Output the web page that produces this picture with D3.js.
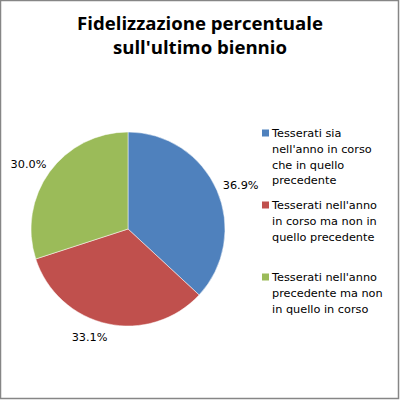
<!DOCTYPE html>
<html lang="it">
<head>
<meta charset="utf-8">
<script src="https://cdn.jsdelivr.net/npm/d3@7"></script>
<style>
  body { margin: 0; background: #fff; }
  .title { font-family: "Open Sans", "DejaVu Sans", sans-serif; font-weight: bold; font-size: 18.6px; fill: #000; }
  .lbl, .leg { font-family: "DejaVu Sans", sans-serif; font-size: 11.3px; fill: #000; }
</style>
</head>
<body>
<svg id="chart" width="400" height="400"></svg>
<script>
  var titleLines = ["Fidelizzazione percentuale", "sull'ultimo biennio"];
  var categories = [
    "Tesserati sia nell'anno in corso che in quello precedente",
    "Tesserati nell'anno in corso ma non in quello precedente",
    "Tesserati nell'anno precedente ma non in quello in corso"
  ];
  var legendLines = [
    ["Tesserati sia", "nell'anno in corso", "che in quello", "precedente"],
    ["Tesserati nell'anno", "in corso ma non in", "quello precedente"],
    ["Tesserati nell'anno", "precedente ma non", "in quello in corso"]
  ];
  var values = [36.9, 33.1, 30.0];
  var colors = ["#4F81BD", "#C0504D", "#9BBB59"];

  var svg = d3.select("#chart");
  var cx = 128, cy = 229, r = 97;

  svg.append("rect")
    .attr("x", 0.5).attr("y", 0.5)
    .attr("width", 398).attr("height", 398)
    .attr("fill", "#fff")
    .attr("stroke", "#868686")
    .attr("stroke-width", 1.5);

  svg.append("text")
    .attr("class", "title")
    .attr("text-anchor", "middle")
    .selectAll("tspan")
    .data(titleLines)
    .enter()
    .append("tspan")
    .attr("x", 200)
    .attr("y", function(d, i) { return 30 + i * 24; })
    .text(function(d) { return d; });

  var color = d3.scaleOrdinal().domain(categories).range(colors);
  var pie = d3.pie().sort(null).value(function(d) { return d.v; });
  var arcs = pie(categories.map(function(c, i) { return {c: c, v: values[i]}; }));
  var arc = d3.arc().innerRadius(0).outerRadius(r);

  var g = svg.append("g").attr("transform", "translate(" + cx + "," + cy + ")");
  g.selectAll("path")
    .data(arcs)
    .enter()
    .append("path")
    .attr("d", arc)
    .attr("fill", function(d) { return color(d.data.c); })
    .attr("stroke", "#fff")
    .attr("stroke-width", 0.5);

  // labels pushed just outside the rim, shifted away by half their size
  g.selectAll("text.lbl")
    .data(arcs)
    .enter()
    .append("text")
    .attr("class", "lbl")
    .text(function(d) { return d3.format(".1f")(d.data.v) + "%"; })
    .each(function(d) {
      var a = (d.startAngle + d.endAngle) / 2;
      var s = Math.sin(a), c = Math.cos(a);
      var w = this.getComputedTextLength();
      var px = (r + 8) * s, py = -(r + 8) * c;
      var x = px + s * w / 2 + (c < -0.9 ? -12 : 0);
      var y = py - c * 6;
      d3.select(this)
        .attr("x", x)
        .attr("y", y)
        .attr("dy", "0.35em")
        .attr("text-anchor", "middle");
    });

  var leg = svg.append("g").attr("transform", "translate(262,0)");
  var legY = [133, 205, 277];
  legendLines.forEach(function(lines, i) {
    leg.append("rect")
      .attr("x", 0).attr("y", legY[i] - 3.5)
      .attr("width", 7).attr("height", 7)
      .attr("fill", colors[i]);
    leg.append("text")
      .attr("class", "leg")
      .selectAll("tspan")
      .data(lines)
      .enter()
      .append("tspan")
      .attr("x", 10)
      .attr("y", function(d, j) { return legY[i] + j * 15.8; })
      .attr("dy", "0.35em")
      .text(function(d) { return d; });
  });
</script>
</body>
</html>
